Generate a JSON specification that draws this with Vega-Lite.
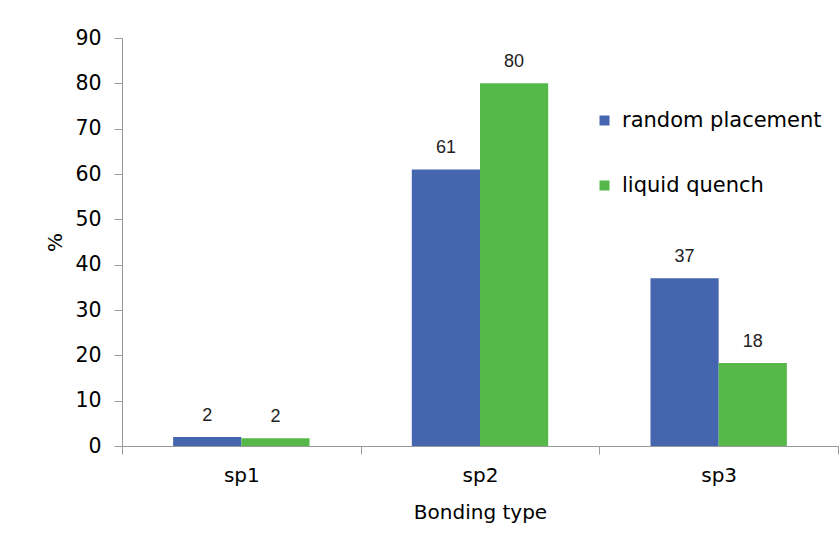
{
  "$schema": "https://vega.github.io/schema/vega-lite/v6.json",
  "width": 716,
  "height": 408,
  "autosize": {"type": "none"},
  "padding": {"left": 122, "top": 38, "right": 1, "bottom": 102},
  "background": "white",
  "config": {"view": {"stroke": null}},
  "data": {
    "values": [
      {"type": "sp1", "series": "random placement", "value": 2.0},
      {"type": "sp1", "series": "liquid quench", "value": 1.7},
      {"type": "sp2", "series": "random placement", "value": 61},
      {"type": "sp2", "series": "liquid quench", "value": 80},
      {"type": "sp3", "series": "random placement", "value": 37},
      {"type": "sp3", "series": "liquid quench", "value": 18.3}
    ]
  },
  "encoding": {
    "x": {
      "field": "type", "type": "nominal",
      "scale": {"paddingInner": 0, "paddingOuter": 0},
      "axis": {
        "title": "Bonding type", "titleFont": "DejaVu Sans", "titleFontSize": 20, "titleFontWeight": "normal", "titleColor": "#000", "titlePadding": 17,
        "labelFont": "DejaVu Sans", "labelFontSize": 20, "labelColor": "#000", "labelAngle": 0, "labelPadding": 11,
        "domainColor": "#999", "tickColor": "#999", "tickSize": 8, "tickBand": "extent"
      }
    },
    "xOffset": {"field": "series", "sort": ["random placement", "liquid quench"], "scale": {"paddingInner": 0, "paddingOuter": 0.75}},
    "y": {
      "field": "value", "type": "quantitative",
      "scale": {"domain": [0, 90]},
      "axis": {
        "title": "%", "titleFont": "DejaVu Sans", "titleFontSize": 20, "titleFontWeight": "normal", "titleColor": "#000", "titlePadding": 9,
        "labelFont": "DejaVu Sans", "labelFontSize": 20.5, "labelColor": "#000", "labelPadding": 13,
        "values": [0, 10, 20, 30, 40, 50, 60, 70, 80, 90],
        "grid": false, "domainColor": "#999", "tickColor": "#999", "tickSize": 8
      }
    }
  },
  "layer": [
    {
      "mark": {"type": "bar"},
      "encoding": {
        "color": {
          "field": "series", "type": "nominal",
          "sort": ["random placement", "liquid quench"],
          "scale": {"domain": ["random placement", "liquid quench"], "range": ["#4566AF", "#57B84A"]},
          "legend": {
            "title": null, "orient": "none", "legendX": 472, "legendY": 72,
            "symbolType": "square", "symbolSize": 100, "symbolStrokeWidth": 0,
            "labelFont": "DejaVu Sans", "labelFontSize": 21, "labelColor": "#000", "labelLimit": 400,
            "rowPadding": 43, "labelOffset": 7
          }
        }
      }
    },
    {
      "mark": {"type": "text", "baseline": "bottom", "dy": -12, "font": "Liberation Sans", "fontSize": 18, "color": "#222"},
      "encoding": {
        "text": {"field": "value", "type": "quantitative", "format": ".0f"}
      }
    }
  ]
}
